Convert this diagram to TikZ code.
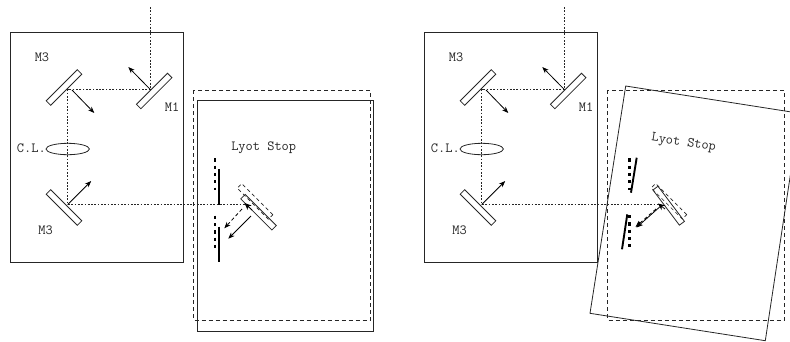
\documentclass[tikz,border=0pt]{standalone}
\usetikzlibrary{arrows.meta,shapes.geometric}
\tikzset{
  box/.style={line width=0.8pt,draw=black!85},
  dbox/.style={line width=0.8pt,draw=black!85,dash pattern=on 4pt off 3pt},
  beam/.style={line width=1pt,draw=black!85,dash pattern=on 1.7pt off 1.6pt},
  mirror/.style={draw=black!85,line width=0.8pt,rectangle,minimum width=44pt,minimum height=6.3pt,inner sep=0pt,outer sep=0pt},
  ghost/.style={draw=black!85,line width=0.7pt,rectangle,minimum width=44pt,minimum height=6.3pt,inner sep=0pt,outer sep=0pt,dash pattern=on 3.5pt off 3pt},
  ray/.style={line width=0.8pt,draw=black,-{Stealth[length=6.5pt,width=5pt]}},
  dray/.style={line width=0.8pt,draw=black,dash pattern=on 3.5pt off 2.5pt,-{Stealth[length=6.5pt,width=5pt]}},
  lbl/.style={font=\fontsize{14}{14}\selectfont\ttfamily,text=black!85,inner sep=0pt},
  stopbar/.style={line width=1.9pt,draw=black},
  stopdots/.style={line width=2.6pt,draw=black,dash pattern=on 3.2pt off 4.1pt},
  lens/.style={draw=black!85,line width=0.8pt,ellipse,minimum width=43.4pt,minimum height=11.4pt,inner sep=0pt},
  headtip/.style={line width=0.8pt,draw=black,-{Stealth[length=7pt,width=6pt]}},
}
\begin{document}
\begin{tikzpicture}[x=1pt,y=-1pt]
\useasboundingbox (0,0) rectangle (790,341);
\clip (0,0) rectangle (790,341);
\foreach \ox/\nm in {0/a,414/b}{
\begin{scope}[shift={(\ox,0)}]
  \draw[box] (10,32) rectangle (183,262);
  \node[mirror,rotate=45] (m1\nm) at (154.2,91) {};
  \node[mirror,rotate=45] (m2\nm) at (64,87.5) {};
  \node[mirror,rotate=-45] (m3\nm) at (64,207.5) {};
  \node[lens] (cl\nm) at (67.7,149) {};
  \coordinate (in\nm) at (150.3,7);
  \coordinate (p1\nm) at (150.3,89.5);
  \coordinate (p2\nm) at (67.7,89.5);
  \coordinate (p3\nm) at (67.7,204.5);
  \coordinate (p4\nm) at (245,204.5);
  \draw[beam] (in\nm) -- (p1\nm) -- (p2\nm) -- (p3\nm) -- (p4\nm);
  \draw[ray] (p1\nm) -- ++(-22,-22.5);
  \draw[ray] (72,90) -- (94.3,113);
  \draw[ray] (p3\nm) -- ++(23.5,-23.5);
  \node[lbl] (t1\nm) at (42,57.5) {M3};
  \node[lbl] (t2\nm) at (172,107.5) {M1};
  \node[lbl,anchor=east] (t3\nm) at (46,148.5) {C.L.};
  \node[lbl] (t4\nm) at (45.7,230) {M3};
  \draw[dbox] (193.5,90) rectangle (370.3,320);
\end{scope}}
% left panel Lyot stop
\draw[box] (197.3,100.3) rectangle (373.3,331);
\node[lbl] (ls) at (263.7,147.7) {Lyot Stop};
\draw[stopbar] (218.7,169) -- (218.7,205);
\draw[stopbar] (218.7,226.7) -- (218.7,262.3);
\draw[stopdots] (215,158.3) -- (215,190);
\draw[stopdots] (215,215.7) -- (215,248.3);
\node[mirror,rotate=-45] (ma) at (258.5,212.2) {};
\node[ghost,rotate=-45] (ga) at (255,201.4) {};
\coordinate (ha) at (252,210);
\coordinate (ta) at (244.5,203);
\draw[headtip] (ha) -- (ta);
\draw[dray] (242,209) -- (224.3,228.3);
\draw[ray] (251,216) -- (228.3,238.7);
% right panel Lyot stop
\draw[box] (625.7,86) -- (799.7,113.3) -- (765.3,340.7) -- (590,313.3) -- cycle;
\node[lbl,rotate=-9] (lsb) at (683.7,143.3) {Lyot Stop};
\draw[stopbar] (636.7,157.7) -- (631,192.7);
\draw[stopbar] (627.3,214.3) -- (622,249.3);
\draw[stopdots] (629.3,158.3) -- (629.3,190);
\draw[stopdots] (629.3,215) -- (629.3,247.3);
\node[mirror,rotate=-53] (mb) at (668.7,205.7) {};
\node[ghost,rotate=-45] (gb) at (669,201.3) {};
\coordinate (hb) at (665,209);
\coordinate (tb) at (658,203.5);
\draw[headtip] (hb) -- (tb);
\draw[dray] (656,209) -- (635.5,227);
\draw[ray] (660,206.7) -- (636.5,227.5);
\end{tikzpicture}
\end{document}
